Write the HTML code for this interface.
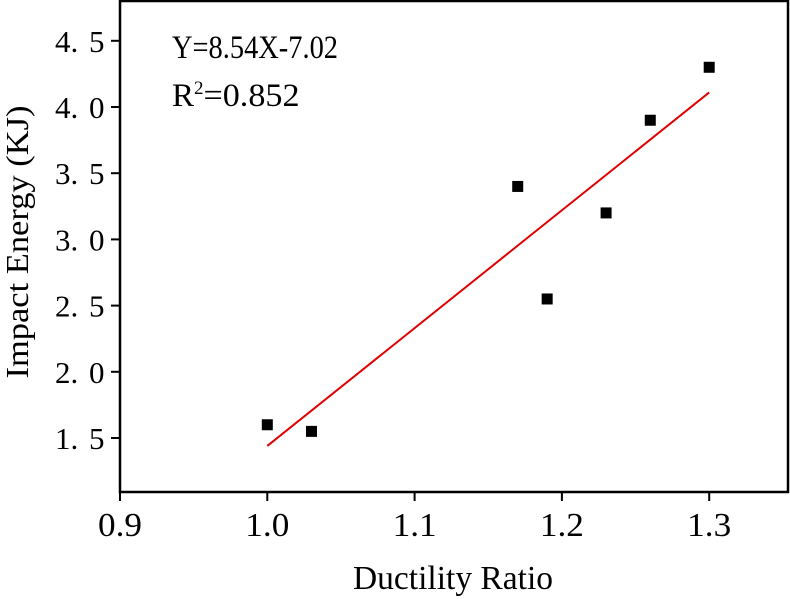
<!DOCTYPE html>
<html><head><meta charset="utf-8"><style>
html,body{margin:0;padding:0;background:#fff;}
svg{display:block;font-family:"Liberation Serif","Noto Serif CJK SC",serif;}
</style></head><body>
<svg id="chart" width="790" height="599" viewBox="0 0 790 599" xmlns="http://www.w3.org/2000/svg">
<g id="axes"></g>
<g id="marks"></g>
<text x="172" y="58" font-size="33" textLength="166" lengthAdjust="spacingAndGlyphs">Y=8.54X-7.02</text>
<text x="172" y="106" font-size="33">R<tspan dy="-12" font-size="19">2</tspan><tspan dy="12" textLength="96" lengthAdjust="spacingAndGlyphs">=0.852</tspan></text>
<text x="453" y="589" font-size="34" text-anchor="middle" textLength="200" lengthAdjust="spacingAndGlyphs">Ductility Ratio</text>
<text transform="translate(28,242) rotate(-90)" font-size="32" text-anchor="middle" textLength="273" lengthAdjust="spacingAndGlyphs">Impact Energy (KJ)</text>
</svg>
<script>
const xValues=[1.0,1.03,1.17,1.19,1.23,1.26,1.3];
const yValues=[1.6,1.55,3.4,2.55,3.2,3.9,4.3];
const fitX=[1.0,1.3];
const fitY=[1.44,4.11];
const xTicks=[0.9,1.0,1.1,1.2,1.3];
const xTickLabels=["0.9","1.0","1.1","1.2","1.3"];
const yTicks=[1.5,2.0,2.5,3.0,3.5,4.0,4.5];
const yTickLabels=["1. 5","2. 0","2. 5","3. 0","3. 5","4. 0","4. 5"];

const L=120,R=788,T=1,B=492;
function sx(v){return 120+(v-0.9)*1473;}
function sy(v){return 438-(v-1.5)*132.4;}
const NS="http://www.w3.org/2000/svg";
function mk(tag,attrs,parent){const e=document.createElementNS(NS,tag);for(const k in attrs)e.setAttribute(k,attrs[k]);parent.appendChild(e);return e;}
const axes=document.getElementById('axes'),marks=document.getElementById('marks');
const frame=mk('rect',{x:L,y:T,width:R-L,height:B-T,fill:'none',stroke:'#000','stroke-width':2.5},axes);


xTicks.forEach((t,i)=>{
 const x=sx(t);
 const ln=mk('line',{x1:x,x2:x,y1:B,y2:B+9,stroke:'#000','stroke-width':2},axes);
 
 
 const tx=mk('text',{x:x,y:536,'font-size':34,'text-anchor':'middle',textLength:44,lengthAdjust:'spacingAndGlyphs'},axes);
 tx.textContent=xTickLabels[i];
 
 
});
yTicks.forEach((t,i)=>{
 const y=sy(t);
 const ln=mk('line',{x1:L-9,x2:L,y1:y,y2:y,stroke:'#000','stroke-width':2},axes);
 
 
 const s=yTickLabels[i];
 const tx=mk('text',{x:55,y:y+11,'font-size':31},axes);
 const a=mk('tspan',{x:55},tx); a.textContent=s.slice(0,2);
 const b=mk('tspan',{x:89},tx); b.textContent=s.slice(3);
 
 
});
const fit=mk('line',{x1:sx(fitX[0]),y1:sy(fitY[0]),x2:sx(fitX[1]),y2:sy(fitY[1]),stroke:'#e00000','stroke-width':2},marks);


xValues.forEach((xv,i)=>{
 const p=mk('rect',{x:sx(xv)-5.5,y:sy(yValues[i])-5.5,width:11,height:11,fill:'#000'},marks);
 
 
});
</script>
</body></html>
